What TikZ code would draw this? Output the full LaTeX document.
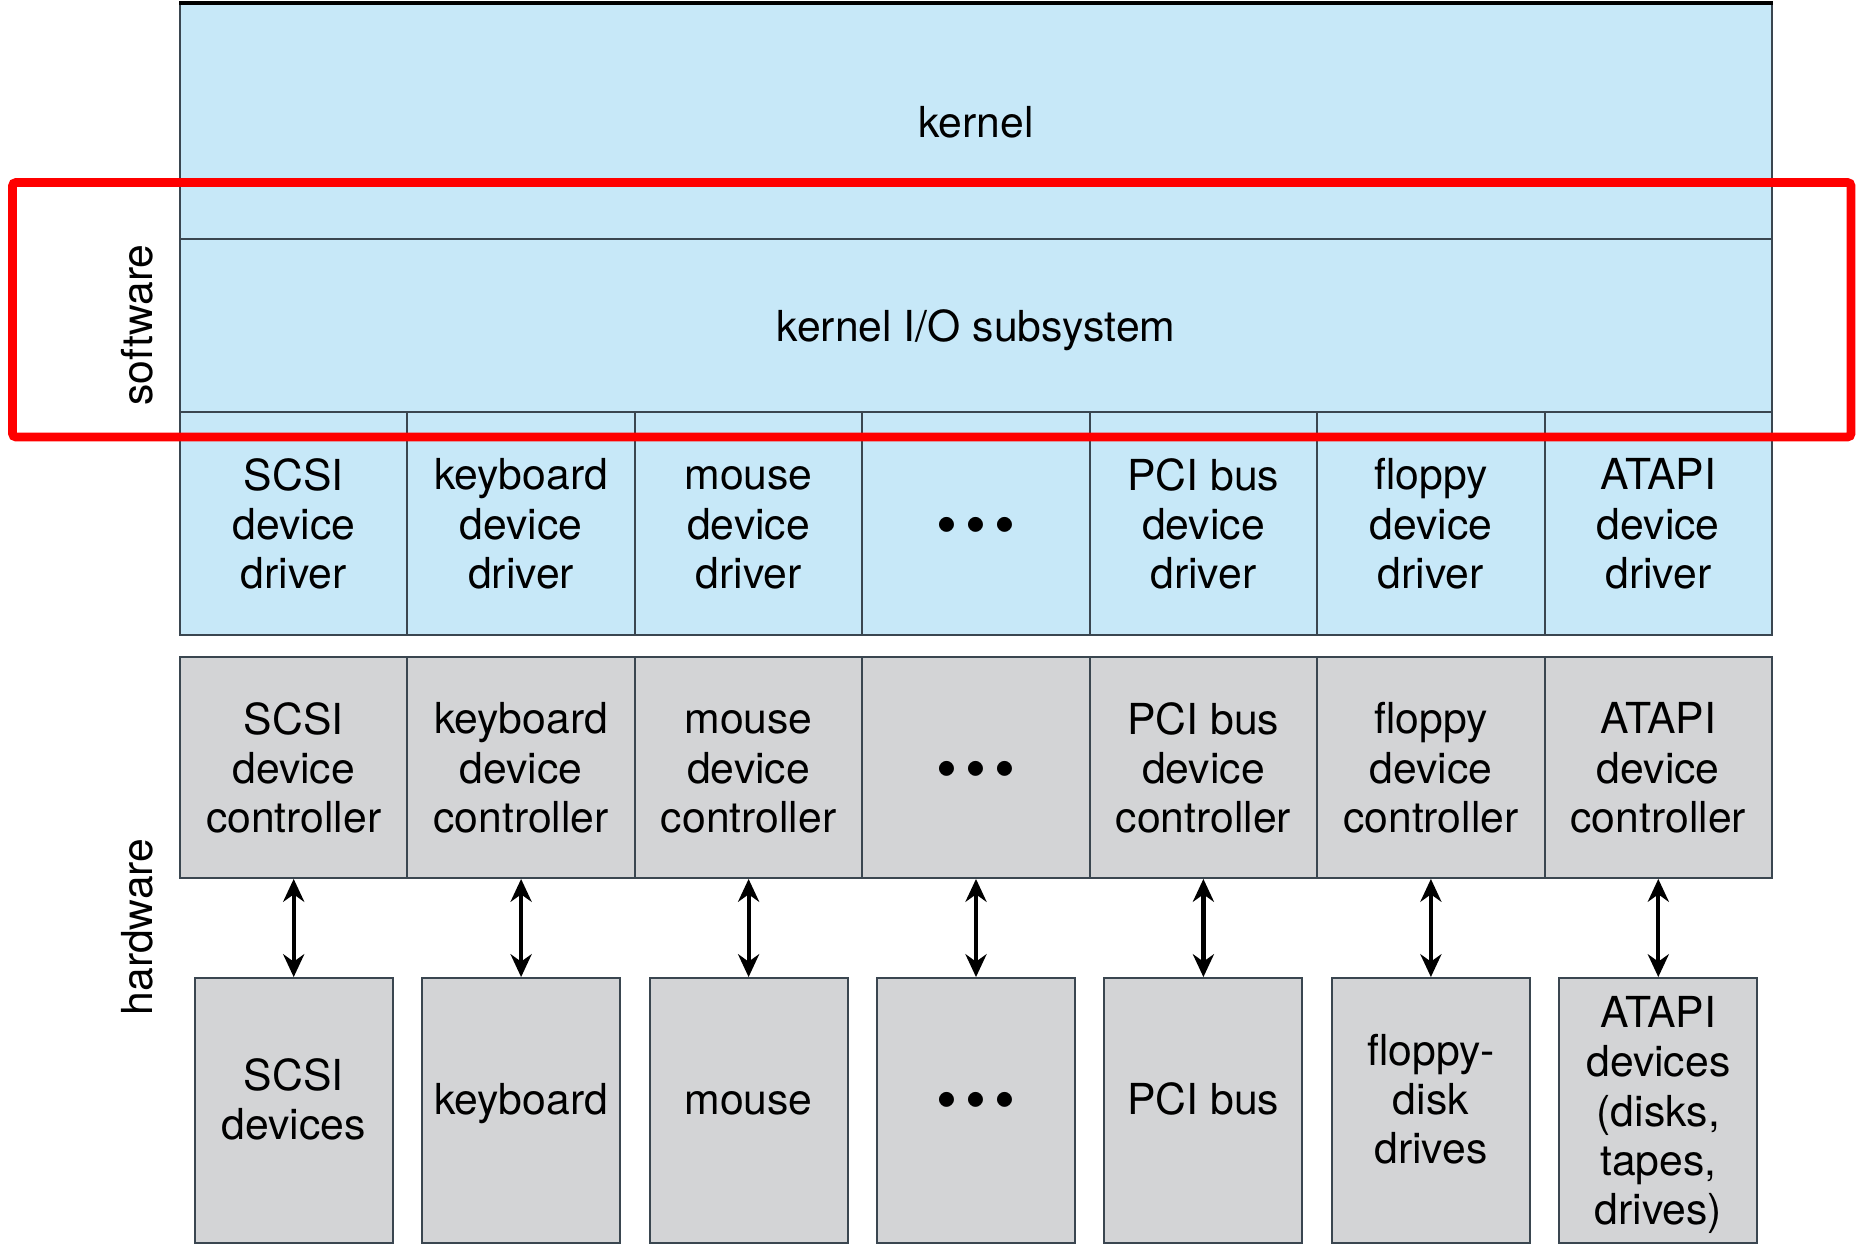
\documentclass[tikz,border=0pt]{standalone}
\usepackage{fontspec}
\setmainfont{TeX Gyre Heros}
\usepackage{tikz}
\usetikzlibrary{positioning,arrows.meta}

\definecolor{swblue}{RGB}{199,232,248}
\definecolor{hwgray}{RGB}{211,212,214}
\definecolor{edgegray}{RGB}{58,70,80}

\tikzset{
  cell/.style={draw=edgegray,line width=1.1pt,inner sep=0pt,align=center,text depth=0pt},
  layer/.style={cell,fill=swblue,minimum width=31.84cm},
  driver/.style={cell,fill=swblue,minimum width=4.549cm,minimum height=4.46cm},
  ctrl/.style={driver,fill=hwgray,minimum height=4.42cm},
  dev/.style={cell,fill=hwgray,minimum width=3.96cm,minimum height=5.3cm,text depth=13.4pt},
  link/.style={{Stealth[length=13pt,width=12pt]}-{Stealth[length=13pt,width=12pt]},line width=2.4pt},
  side/.style={rotate=90,inner sep=0pt}
}

\newcommand{\bigdot}{\smash{\raisebox{-12.5pt}{\scalebox{1.4}{\textbullet}}}}
\newcommand{\moredots}{\bigdot\hspace{4.5pt}\bigdot\hspace{4.5pt}\bigdot}

\begin{document}
\begin{tikzpicture}[x=0.02cm,y=-0.02cm,font=\fontsize{24.3pt}{28pt}\selectfont]

	\useasboundingbox (0,0) rectangle (1856,1246);

	% software layers
	\node[layer,minimum height=4.7cm] (kernel) at (976,121.5) {kernel};
	\node[layer,minimum height=3.46cm] (kio) at (976,325.5) {kernel I/O subsystem};
	\draw[line width=2.4pt] (kernel.north west) -- (kernel.north east);

	% device drivers
	\node[driver] (d1) at (293.7,523.5) {SCSI\\device\\driver};
	\node[driver] (d2) at (521.1,523.5) {keyboard\\device\\driver};
	\node[driver] (d3) at (748.6,523.5) {\vphantom{A}mouse\\device\\driver};
	\node[driver] (d4) at (976.0,523.5) {\moredots};
	\node[driver] (d5) at (1203.4,523.5) {PCI bus\\device\\driver};
	\node[driver] (d6) at (1430.9,523.5) {floppy\\device\\driver};
	\node[driver] (d7) at (1658.3,523.5) {ATAPI\\device\\driver};

	% device controllers
	\node[ctrl] (c1) at (293.7,767.5) {SCSI\\device\\controller};
	\node[ctrl] (c2) at (521.1,767.5) {keyboard\\device\\controller};
	\node[ctrl] (c3) at (748.6,767.5) {\vphantom{A}mouse\\device\\controller};
	\node[ctrl] (c4) at (976.0,767.5) {\moredots};
	\node[ctrl] (c5) at (1203.4,767.5) {PCI bus\\device\\controller};
	\node[ctrl] (c6) at (1430.9,767.5) {floppy\\device\\controller};
	\node[ctrl] (c7) at (1658.3,767.5) {ATAPI\\device\\controller};

	% devices
	\node[dev] (h1) at (293.7,1110.5) {SCSI\\devices};
	\node[dev] (h2) at (521.1,1110.5) {keyboard};
	\node[dev] (h3) at (748.6,1110.5) {\vphantom{A}mouse};
	\node[dev] (h4) at (976.0,1110.5) {\moredots};
	\node[dev] (h5) at (1203.4,1110.5) {PCI bus};
	\node[dev] (h6) at (1430.9,1110.5) {floppy-\\disk\\drives};
	\node[dev,text depth=0pt] (h7) at (1658.3,1110.5) {ATAPI\\devices\\(disks,\\tapes,\\drives)};

	\draw[link] (c1.south) -- (h1.north);
	\draw[link] (c2.south) -- (h2.north);
	\draw[link] (c3.south) -- (h3.north);
	\draw[link] (c4.south) -- (h4.north);
	\draw[link] (c5.south) -- (h5.north);
	\draw[link] (c6.south) -- (h6.north);
	\draw[link] (c7.south) -- (h7.north);

	\node[side] (sw) at (137,325) {software};
	\node[side] (hw) at (137,927) {hardware};

	% highlight
	\draw[red,line width=5pt,rounded corners=2pt] (12.5,182.5) rectangle (1851,437);

\end{tikzpicture}
\end{document}
